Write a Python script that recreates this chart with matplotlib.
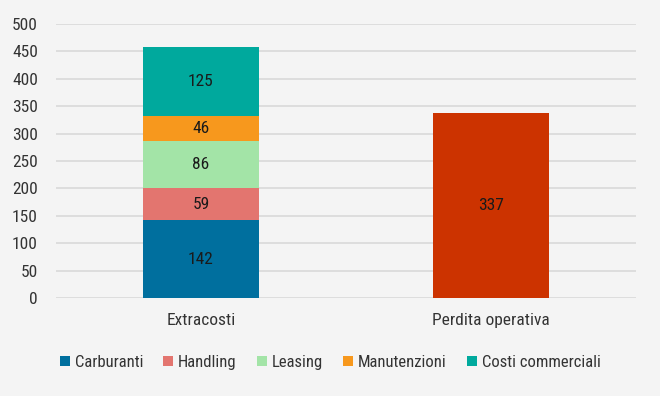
import matplotlib
matplotlib.use("Agg")
import matplotlib.pyplot as plt

plt.rcParams['font.family'] = ['Roboto Condensed', 'Sofia Sans Semi Condensed', 'Liberation Sans', 'DejaVu Sans']

categories = ["Extracosti", "Perdita operativa"]
series_names = ["Carburanti", "Handling", "Leasing", "Manutenzioni", "Costi commerciali"]
extracosti = [142, 59, 86, 46, 125]
perdita = [337]
colors = ["#006f9e", "#e3756f", "#a3e4a7", "#f7981d", "#00a99d"]
perdita_color = "#cc3300"
yticks = [0, 50, 100, 150, 200, 250, 300, 350, 400, 450, 500]

bg = "#f4f4f4"
txt = "#333333"
fs = 12.5
fig = plt.figure(figsize=(6.6, 3.96), dpi=100, facecolor=bg)
ax = fig.add_axes([0.0848, 0.2475, 0.8788, 0.6919], facecolor=bg)

w = 0.4
bottom = 0
for name, v, c in zip(series_names, extracosti, colors):
    ax.bar(0, v, w, bottom=bottom, color=c, label=name, zorder=3)
    ax.text(0, bottom + v / 2, str(v), ha="center", va="center", fontsize=fs, color="#1a1a1a", zorder=4)
    bottom += v
ax.bar(1, perdita[0], w, color=perdita_color, zorder=3)
ax.text(1, perdita[0] / 2, str(perdita[0]), ha="center", va="center", fontsize=fs, color="#1a1a1a", zorder=4)

ax.set_xlim(-0.5, 1.5)
ax.set_ylim(0, 500)
ax.set_yticks(yticks)
ax.set_xticks([0, 1])
ax.set_xticklabels(categories)
ax.tick_params(axis="both", length=0, labelsize=fs, colors=txt)
ax.tick_params(axis="x", pad=11)
ax.tick_params(axis="y", pad=13)
ax.grid(axis="y", color="#d9d9d9", linewidth=1.2, zorder=0)
for s in ax.spines.values():
    s.set_visible(False)

fig.legend(loc="center", bbox_to_anchor=(0.5, 0.085), ncol=5, frameon=False,
           fontsize=12, handlelength=0.6, handleheight=0.6, handletextpad=0.3,
           columnspacing=1.2, labelcolor=txt)

fig.savefig("out.png", dpi=100, facecolor=bg)
